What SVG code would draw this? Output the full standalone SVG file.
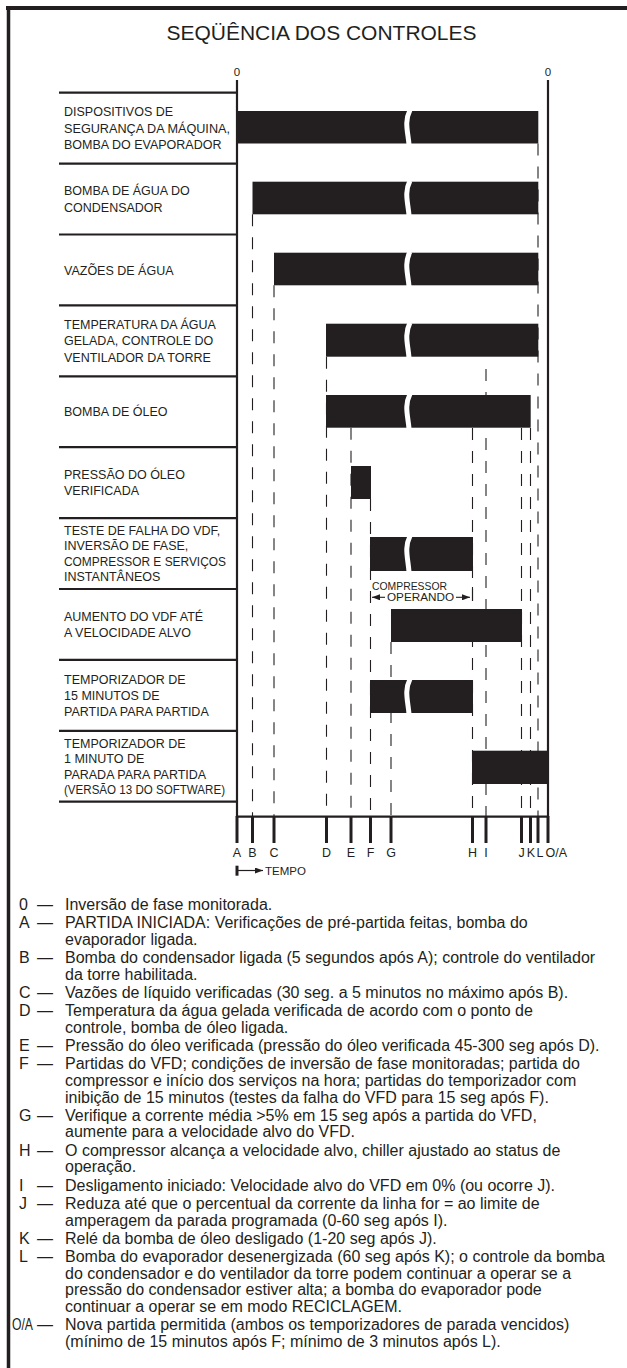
<svg xmlns="http://www.w3.org/2000/svg" width="627" height="1368" viewBox="0 0 627 1368">
<style>
text{font-family:"Liberation Sans",Arial,sans-serif;fill:#231f20}
.title{font-size:20.5px}
.lbl{font-size:12.5px}
.ev{font-size:12.5px;text-anchor:middle}
.zero{font-size:11.5px;text-anchor:middle}
.leg{font-size:16px}
.small{font-size:10.5px}
.bar{fill:#231f20}
.brk{stroke:#fff;stroke-width:5;fill:none}
.dash{stroke:#231f20;stroke-width:1.1;stroke-dasharray:12 11;fill:none}
.sep{stroke:#231f20;stroke-width:2.2}
.ax{stroke:#231f20;stroke-width:2.2;fill:none}
.tick{stroke:#231f20;stroke-width:3}
.frame{stroke:#231f20;fill:none}
</style>
<defs>
<marker id="ah" viewBox="0 0 8 6" refX="8" refY="3" markerWidth="8" markerHeight="6" markerUnits="userSpaceOnUse" orient="auto-start-reverse">
<path d="M0,0 L8,3 L0,6 z" fill="#231f20"/>
</marker>
</defs>
<g id="frame">
<line class="frame" x1="6" y1="8" x2="627" y2="8" stroke-width="4"/>
<line class="frame" x1="8.5" y1="6" x2="8.5" y2="1368" stroke-width="3.5"/>
</g>
<text id="title" class="title" x="321.5" y="39.5" text-anchor="middle" textLength="310" lengthAdjust="spacingAndGlyphs">SEQÜÊNCIA DOS CONTROLES</text>
<g id="axes">
<text class="zero" x="237" y="76">0</text>
<text class="zero" x="548" y="76">0</text>
<line class="ax" x1="237" y1="80" x2="237" y2="817"/>
<line class="ax" x1="548" y1="80" x2="548" y2="817"/>
<line class="ax" x1="236" y1="816.7" x2="549" y2="816.7"/>
<g id="separators">
<line class="sep" x1="59" y1="92.7" x2="237" y2="92.7"/>
<line class="sep" x1="59" y1="163.6" x2="237" y2="163.6"/>
<line class="sep" x1="59" y1="234.5" x2="237" y2="234.5"/>
<line class="sep" x1="59" y1="305.4" x2="237" y2="305.4"/>
<line class="sep" x1="59" y1="376.3" x2="237" y2="376.3"/>
<line class="sep" x1="59" y1="447.2" x2="237" y2="447.2"/>
<line class="sep" x1="59" y1="518.1" x2="237" y2="518.1"/>
<line class="sep" x1="59" y1="589" x2="237" y2="589"/>
<line class="sep" x1="59" y1="659.9" x2="237" y2="659.9"/>
<line class="sep" x1="59" y1="730.8" x2="237" y2="730.8"/>
<line class="sep" x1="59" y1="801.7" x2="237" y2="801.7"/>
</g>
</g>
<g id="connectors">
<line class="dash" x1="252.5" y1="214.3" x2="252.5" y2="817"/>
<line class="dash" x1="274" y1="285.3" x2="274" y2="817"/>
<line class="dash" x1="326.5" y1="356.7" x2="326.5" y2="817"/>
<line class="dash" x1="351" y1="427.7" x2="351" y2="817"/>
<line class="dash" x1="370.5" y1="499" x2="370.5" y2="817"/>
<line class="dash" x1="391" y1="642" x2="391" y2="817"/>
<line class="dash" x1="472.5" y1="428" x2="472.5" y2="817"/>
<line class="dash" x1="486" y1="369" x2="486" y2="817"/>
<line class="dash" x1="521.5" y1="428" x2="521.5" y2="817"/>
<line class="dash" x1="530.5" y1="428" x2="530.5" y2="817"/>
<line class="dash" x1="538" y1="143.5" x2="538" y2="817"/>
</g>
<g id="row1">
<text class="lbl" x="64" y="116.4">DISPOSITIVOS DE</text>
<text class="lbl" x="64" y="132.7" textLength="166" lengthAdjust="spacingAndGlyphs">SEGURANÇA DA MÁQUINA,</text>
<text class="lbl" x="64" y="149">BOMBA DO EVAPORADOR</text>
<rect class="bar" x="237" y="111" width="301.3" height="32.5"/>
<path class="brk" d="M410,110 C404,122 408,132 409,144.5"/>
</g>
<g id="row2">
<text class="lbl" x="64" y="195.4">BOMBA DE ÁGUA DO</text>
<text class="lbl" x="64" y="211.7">CONDENSADOR</text>
<rect class="bar" x="252.5" y="181.7" width="285.8" height="32.6"/>
<path class="brk" d="M410,180.7 C404,192.7 408,202.7 409,215.3"/>
</g>
<g id="row3">
<text class="lbl" x="64" y="274.5">VAZÕES DE ÁGUA</text>
<rect class="bar" x="274" y="252.7" width="264.3" height="32.6"/>
<path class="brk" d="M410,251.7 C404,263.7 408,273.7 409,286.3"/>
</g>
<g id="row4">
<text class="lbl" x="64" y="329.1">TEMPERATURA DA ÁGUA</text>
<text class="lbl" x="64" y="345.4">GELADA, CONTROLE DO</text>
<text class="lbl" x="64" y="361.7">VENTILADOR DA TORRE</text>
<rect class="bar" x="326" y="323.7" width="212.3" height="33"/>
<path class="brk" d="M410,322.7 C404,334.7 408,344.7 409,357.7"/>
</g>
<g id="row5">
<text class="lbl" x="64" y="416.3">BOMBA DE ÓLEO</text>
<rect class="bar" x="326" y="395" width="204.7" height="32.7"/>
<path class="brk" d="M410,394 C404,406 408,416 409,428.7"/>
</g>
<g id="row6">
<text class="lbl" x="64" y="479">PRESSÃO DO ÓLEO</text>
<text class="lbl" x="64" y="495.3">VERIFICADA</text>
<rect class="bar" x="351" y="466" width="20" height="33"/>
</g>
<g id="row7">
<text class="lbl" x="64" y="535">TESTE DE FALHA DO VDF,</text>
<text class="lbl" x="64" y="550.4">INVERSÃO DE FASE,</text>
<text class="lbl" x="64" y="565.8" textLength="162" lengthAdjust="spacingAndGlyphs">COMPRESSOR E SERVIÇOS</text>
<text class="lbl" x="64" y="581.2">INSTANTÂNEOS</text>
<rect class="bar" x="370" y="537" width="103" height="34"/>
<path class="brk" d="M410,536 C404,548 408,558 409,572"/>
</g>
<g id="compressor-operando">
<text class="small" x="372" y="589.5" textLength="75" lengthAdjust="spacingAndGlyphs">COMPRESSOR</text>
<text class="small" x="387" y="601.2" textLength="67" lengthAdjust="spacingAndGlyphs">OPERANDO</text>
<line x1="385" y1="597.3" x2="372" y2="597.3" stroke="#231f20" stroke-width="1.1" marker-end="url(#ah)"/>
<line x1="456" y1="597.3" x2="470" y2="597.3" stroke="#231f20" stroke-width="1.1" marker-end="url(#ah)"/>
<line x1="472.5" y1="587" x2="472.5" y2="601" stroke="#231f20" stroke-width="1.1"/>
</g>
<g id="row8">
<text class="lbl" x="64" y="620.8">AUMENTO DO VDF ATÉ</text>
<text class="lbl" x="64" y="637.1">A VELOCIDADE ALVO</text>
<rect class="bar" x="391" y="609" width="131" height="33"/>
</g>
<g id="row9">
<text class="lbl" x="64" y="683.6">TEMPORIZADOR DE</text>
<text class="lbl" x="64" y="699.9">15 MINUTOS DE</text>
<text class="lbl" x="64" y="716.2">PARTIDA PARA PARTIDA</text>
<rect class="bar" x="370" y="680" width="103" height="33"/>
<path class="brk" d="M410,679 C404,691 408,701 409,714"/>
</g>
<g id="row10">
<text class="lbl" x="64" y="747.7">TEMPORIZADOR DE</text>
<text class="lbl" x="64" y="763.1">1 MINUTO DE</text>
<text class="lbl" x="64" y="778.5">PARADA PARA PARTIDA</text>
<text class="lbl" x="64" y="793.9" textLength="161" lengthAdjust="spacingAndGlyphs">(VERSÃO 13 DO SOFTWARE)</text>
<rect class="bar" x="472" y="750.7" width="76" height="33.3"/>
</g>
<g id="timeline">
<line class="tick" x1="237" y1="816" x2="237" y2="843"/>
<line class="tick" x1="252.5" y1="816" x2="252.5" y2="843"/>
<line class="tick" x1="274" y1="816" x2="274" y2="843"/>
<line class="tick" x1="326.5" y1="816" x2="326.5" y2="843"/>
<line class="tick" x1="351" y1="816" x2="351" y2="843"/>
<line class="tick" x1="370.5" y1="816" x2="370.5" y2="843"/>
<line class="tick" x1="391" y1="816" x2="391" y2="843"/>
<line class="tick" x1="472.5" y1="816" x2="472.5" y2="843"/>
<line class="tick" x1="486" y1="816" x2="486" y2="843"/>
<line class="tick" x1="521.5" y1="816" x2="521.5" y2="843"/>
<line class="tick" x1="530.5" y1="816" x2="530.5" y2="843"/>
<line class="tick" x1="538" y1="816" x2="538" y2="843"/>
<line class="tick" x1="548" y1="816" x2="548" y2="843"/>
<text class="ev" x="237" y="857">A</text>
<text class="ev" x="252.5" y="857">B</text>
<text class="ev" x="274" y="857">C</text>
<text class="ev" x="326.5" y="857">D</text>
<text class="ev" x="351" y="857">E</text>
<text class="ev" x="370.5" y="857">F</text>
<text class="ev" x="391" y="857">G</text>
<text class="ev" x="472.5" y="857">H</text>
<text class="ev" x="486" y="857">I</text>
<text class="ev" x="521.5" y="857">J</text>
<text class="ev" x="531" y="857">K</text>
<text class="ev" x="540" y="857">L</text>
<text class="lbl" x="545.5" y="857">O/A</text>
<line class="tick" x1="237" y1="865.7" x2="237" y2="875.7"/>
<line x1="237" y1="870.5" x2="263" y2="870.5" stroke="#231f20" stroke-width="1.2" marker-end="url(#ah)"/>
<text x="265" y="874.7" font-size="11.5">TEMPO</text>
</g>
<g id="legend" class="leg">
<text class="leg" x="19" y="909.7">0</text><text class="leg" x="37" y="909.7">—</text><text class="leg" x="65" y="909.7">Inversão de fase monitorada.</text>
<text class="leg" x="19" y="928">A</text><text class="leg" x="37" y="928">—</text><text class="leg" x="65" y="928">PARTIDA INICIADA: Verificações de pré-partida feitas, bomba do</text>
<text class="leg" x="65" y="944.6">evaporador ligada.</text>
<text class="leg" x="19" y="962.9">B</text><text class="leg" x="37" y="962.9">—</text><text class="leg" x="65" y="962.9">Bomba do condensador ligada (5 segundos após A); controle do ventilador</text>
<text class="leg" x="65" y="979.5">da torre habilitada.</text>
<text class="leg" x="19" y="997.8">C</text><text class="leg" x="37" y="997.8">—</text><text class="leg" x="65" y="997.8">Vazões de líquido verificadas (30 seg. a 5 minutos no máximo após B).</text>
<text class="leg" x="19" y="1016.1">D</text><text class="leg" x="37" y="1016.1">—</text><text class="leg" x="65" y="1016.1">Temperatura da água gelada verificada de acordo com o ponto de</text>
<text class="leg" x="65" y="1032.7">controle, bomba de óleo ligada.</text>
<text class="leg" x="19" y="1051">E</text><text class="leg" x="37" y="1051">—</text><text class="leg" x="65" y="1051">Pressão do óleo verificada (pressão do óleo verificada 45-300 seg após D).</text>
<text class="leg" x="19" y="1069.3">F</text><text class="leg" x="37" y="1069.3">—</text><text class="leg" x="65" y="1069.3">Partidas do VFD; condições de inversão de fase monitoradas; partida do</text>
<text class="leg" x="65" y="1085.9">compressor e início dos serviços na hora; partidas do temporizador com</text>
<text class="leg" x="65" y="1102.5">inibição de 15 minutos (testes da falha do VFD para 15 seg após F).</text>
<text class="leg" x="19" y="1120.8">G</text><text class="leg" x="37" y="1120.8">—</text><text class="leg" x="65" y="1120.8">Verifique a corrente média &gt;5% em 15 seg após a partida do VFD,</text>
<text class="leg" x="65" y="1137.4">aumente para a velocidade alvo do VFD.</text>
<text class="leg" x="19" y="1155.7">H</text><text class="leg" x="37" y="1155.7">—</text><text class="leg" x="65" y="1155.7">O compressor alcança a velocidade alvo, chiller ajustado ao status de</text>
<text class="leg" x="65" y="1172.3">operação.</text>
<text class="leg" x="19" y="1190.6">I</text><text class="leg" x="37" y="1190.6">—</text><text class="leg" x="65" y="1190.6">Desligamento iniciado: Velocidade alvo do VFD em 0% (ou ocorre J).</text>
<text class="leg" x="19" y="1208.9">J</text><text class="leg" x="37" y="1208.9">—</text><text class="leg" x="65" y="1208.9">Reduza até que o percentual da corrente da linha for = ao limite de</text>
<text class="leg" x="65" y="1225.5">amperagem da parada programada (0-60 seg após I).</text>
<text class="leg" x="19" y="1243.8">K</text><text class="leg" x="37" y="1243.8">—</text><text class="leg" x="65" y="1243.8">Relé da bomba de óleo desligado (1-20 seg após J).</text>
<text class="leg" x="19" y="1262.1">L</text><text class="leg" x="37" y="1262.1">—</text><text class="leg" x="65" y="1262.1">Bomba do evaporador desenergizada (60 seg após K); o controle da bomba</text>
<text class="leg" x="65" y="1278.7">do condensador e do ventilador da torre podem continuar a operar se a</text>
<text class="leg" x="65" y="1295.3">pressão do condensador estiver alta; a bomba do evaporador pode</text>
<text class="leg" x="65" y="1311.9">continuar a operar se em modo RECICLAGEM.</text>
<text class="leg" x="12" y="1330.2" textLength="21" lengthAdjust="spacingAndGlyphs">O/A</text><text class="leg" x="37" y="1330.2">—</text><text class="leg" x="65" y="1330.2">Nova partida permitida (ambos os temporizadores de parada vencidos)</text>
<text class="leg" x="65" y="1346.8">(mínimo de 15 minutos após F; mínimo de 3 minutos após L).</text>
</g>
</svg>
